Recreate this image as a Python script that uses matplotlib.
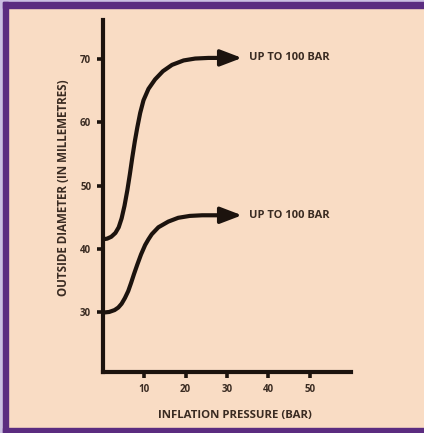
import matplotlib
matplotlib.use("Agg")
import matplotlib.pyplot as plt
from matplotlib.patches import Rectangle

# values
upper_x = [0, 1, 2, 3, 3.8, 4.5, 5.2, 5.9, 6.5, 7.1, 7.7, 8.3, 9, 9.8, 11, 12.6, 14.5,
           16.7, 19.5, 22.3, 25.5, 28.8]
upper_y = [41.5, 41.6, 41.9, 42.5, 43.4, 44.8, 46.8, 49.3, 51.8, 54.5, 57, 59.2, 61.5,
           63.5, 65.3, 66.8, 68.1, 69.1, 69.8, 70.1, 70.2, 70.2]
lower_x = [0, 1.5, 2.8, 3.7, 4.5, 5.3, 6.1, 6.8, 7.5, 8.3, 9.2, 10.2, 11, 11.8, 13.4,
           15.8, 18.2, 21, 24, 28.8]
lower_y = [29.9, 30.0, 30.3, 30.7, 31.3, 32.2, 33.3, 34.6, 36.0, 37.5, 39.1, 40.6, 41.5,
           42.3, 43.4, 44.3, 44.9, 45.2, 45.3, 45.3]
arrow_tip = 33.6
label = 'UP TO 100 BAR'
x_ticks = [10, 20, 30, 40, 50]
y_ticks = [30, 40, 50, 60, 70]

peach = '#F9DCC4'
ink = '#1c130e'
text_col = '#3a2b22'
font = 'Open Sans'

fig = plt.figure(figsize=(4.24, 4.33), dpi=100)
fig.patch.set_facecolor(peach)

# frame: lavender outside, purple band on left, top and bottom
W, H = 424, 433
def band(x0, y0, w, h, c):
    fig.patches.append(Rectangle((x0 / W, 1 - (y0 + h) / H), w / W, h / H,
                                 transform=fig.transFigure, color=c, zorder=0))
band(0, 0, 3, H, '#cbbfe2')
band(0, 0, W, 2, '#cbbfe2')
band(3, 2, 5, H - 2, '#5b2c80')
band(3, 2, W - 3, 6, '#5b2c80')
band(3, 428, W - 3, 5, '#5b2c80')

ax = fig.add_axes([103 / W, 61 / H, 248 / W, 352 / H])
ax.set_facecolor(peach)
ax.set_xlim(0, 60)
ax.set_ylim(20.5, 76.2)

for s in ['top', 'right']:
    ax.spines[s].set_visible(False)
for s in ['left', 'bottom']:
    ax.spines[s].set_linewidth(3)
    ax.spines[s].set_color(ink)
    ax.spines[s].set_capstyle('projecting')

ax.set_xticks(x_ticks)
ax.set_yticks(y_ticks)
ax.tick_params(axis='both', direction='out', length=4.5, width=2.6, color=ink,
               labelsize=7, labelcolor=text_col, pad=4)
for t in ax.get_xticklabels() + ax.get_yticklabels():
    t.set_fontweight('bold')
    t.set_family(font)

for xs, ys in [(upper_x, upper_y), (lower_x, lower_y)]:
    ax.plot(xs, ys, color=ink, lw=3, solid_capstyle='butt', solid_joinstyle='round',
            clip_on=False)
    ax.annotate('', xy=(arrow_tip, ys[-1]), xytext=(xs[-1] - 0.3, ys[-1]),
                arrowprops=dict(arrowstyle='-|>,head_length=1.1,head_width=0.42',
                                mutation_scale=12, color=ink, lw=2.5,
                                shrinkA=0, shrinkB=0))
    ax.text(35.3, ys[-1], label, fontsize=8, fontweight='bold', family=font,
            color=text_col, va='center', ha='left')

ax.set_xlabel('INFLATION PRESSURE (BAR)', fontsize=8.2, fontweight='bold',
              family=font, color=text_col)
ax.xaxis.set_label_coords(132 / 248, -38 / 352)
ax.set_ylabel('OUTSIDE DIAMETER (IN MILLEMETRES)', fontsize=8.4, fontweight='bold',
              family=font, color=text_col)
ax.yaxis.set_label_coords(-33 / 248, 0.525)

fig.savefig('out.png', dpi=100, facecolor=fig.get_facecolor())
